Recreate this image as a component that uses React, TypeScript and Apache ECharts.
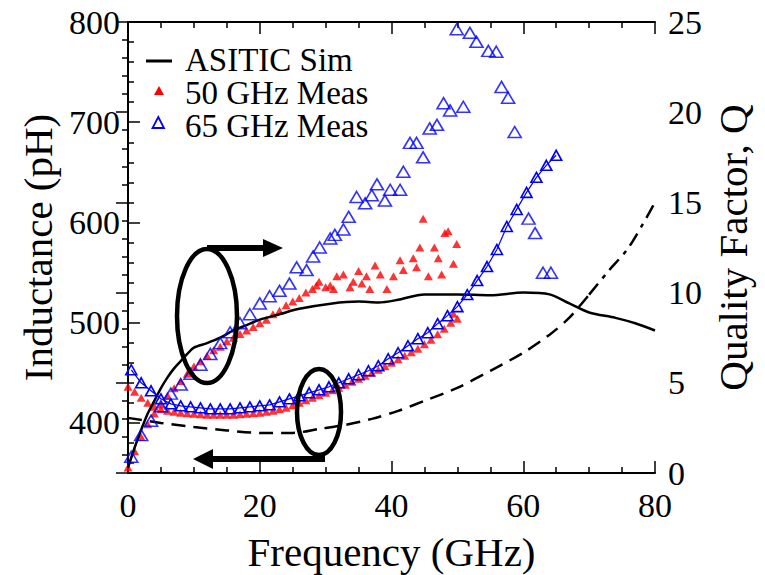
import React, { useEffect, useRef } from 'react';
import * as echarts from 'echarts';

const FONT = 'Liberation Serif';

// ---- axis ticks ----
const leftLabelTicks = [400, 500, 600, 700, 800];
const leftMinorTicks = [360, 380, 420, 440, 460, 480, 520, 540, 560, 580, 620, 640, 660, 680, 720, 740, 760, 780];

// ---- ASITIC simulation: Q (right axis) ----
const simQFreq = [0, 1, 2, 3, 4, 5, 6, 7, 8, 9, 10, 12, 14, 16, 18, 20, 23, 26, 31, 35, 38, 41, 45, 50, 55, 60, 64, 67, 70, 74, 77, 80];
const simQ = [0.3, 1.4, 2.4, 3.3, 4.0, 4.7, 5.3, 5.8, 6.2, 6.6, 6.95, 7.2, 7.5, 7.9, 8.2, 8.5, 8.8, 9.1, 9.4, 9.5, 9.45, 9.6, 9.9, 9.9, 9.85, 10.0, 9.9, 9.4, 8.9, 8.6, 8.3, 7.9];

// ---- ASITIC simulation: inductance (left axis) ----
const simLFreq = [0, 5, 10, 15, 20, 25, 29, 33, 37, 41, 45, 50, 55, 60, 64, 67, 70];
const simL = [405, 400, 396, 392.5, 390, 390, 394, 398, 404, 412, 422, 435, 452, 470, 488, 505, 528];
const simLTailFreq = [70, 73, 76, 80];
const simLTail = [528, 552, 575, 620];

// ---- 50 GHz measurement ----
const red50LFreq = [0, 1, 2, 3, 4, 5, 6, 7, 8, 9, 10, 11, 12, 13, 14, 15, 16, 17, 18, 19, 20, 21, 22, 23, 24, 25, 26, 27, 28, 29, 30, 31, 32, 33, 34, 35, 36, 37, 38, 39, 40, 41, 42, 43, 44, 45, 46, 47, 48, 49, 50, 49.4];
const red50L = [436, 431, 425, 420, 416, 413.5, 412, 411, 410, 409.5, 409, 408.5, 408, 408, 408, 408, 408, 408.5, 409, 409.5, 410, 411, 412, 413.5, 415, 417.5, 420, 422.5, 425, 427.5, 430, 432.5, 435, 438, 441, 444, 447, 450, 453, 456.5, 460, 463.5, 467, 470.5, 474, 478.5, 483, 488.5, 494, 500, 504, 509];
const red50QFreq = [0, 1, 2, 3, 4, 5, 6, 7, 8, 9, 10, 11, 12, 13, 14, 15, 16, 17, 18, 19, 20, 21, 22, 23, 24, 25, 26, 27, 28, 28.6, 29, 30, 30.7, 31.2, 31.7, 32.7, 33.7, 34.2, 35, 35.5, 36.2, 36.7, 37.5, 38.3, 39.3, 40.3, 41.3, 41.8, 43.3, 43.8, 44.3, 44.8, 45.6, 46.5, 47.1, 47.6, 48.1, 48.6, 49.4, 49.9];
const red50Q = [0.3, 1.2, 2.0, 2.7, 3.3, 3.8, 4.3, 4.7, 5.1, 5.5, 5.9, 6.2, 6.5, 6.8, 7.0, 7.3, 7.5, 7.7, 7.9, 8.1, 8.3, 8.5, 8.8, 9.0, 9.3, 9.5, 9.7, 10.0, 10.2, 10.4, 10.6, 10.3, 10.4, 10.2, 10.9, 11.0, 10.3, 10.6, 11.2, 10.5, 10.9, 10.2, 11.5, 11.0, 10.2, 10.9, 11.8, 11.25, 11.9, 11.4, 12.5, 14.1, 10.9, 12.5, 11.9, 11.0, 13.3, 13.4, 11.6, 12.7];

// ---- 65 GHz measurement ----
const blue65LFreq = [0.5, 2, 3.5, 5, 6.5, 8, 9.5, 11, 12.5, 14, 15.5, 17, 18.5, 20, 21.5, 23, 24.5, 26, 27.5, 29, 30.5, 32, 33.5, 35, 36.5, 38, 39.5, 41, 42.5, 44, 45.5, 47, 48.5, 50, 51.5, 53, 54.5, 56, 57.5, 59, 60.5, 62, 63.5, 65];
const blue65L = [453, 440, 432, 424, 419, 417, 416, 415, 414, 414, 414, 415, 416, 417, 418, 421, 424, 427, 430, 433, 436, 440, 444, 448, 452, 457, 464, 470, 477, 484, 490, 499, 507, 516, 528, 542, 556, 573, 596, 613, 630, 645, 657, 667];
const blue65QFreq = [0.5, 2, 3.5, 5, 6.5, 8, 9.5, 11, 12.5, 14, 15.5, 17, 18.5, 20, 21.5, 23, 24.5, 25.6, 27.1, 28.1, 29.1, 30.7, 31.4, 32.7, 33.5, 34.7, 36, 37, 37.8, 39, 39.8, 41.3, 41.8, 42.8, 43.8, 44.8, 45.8, 46.9, 47.9, 48.9, 50.9, 49.9, 51.9, 52.9, 54.7, 55.9, 56.7, 57.7, 58.7, 60.8, 61.8, 63, 64.2];
const blue65Q = [0.9, 2.1, 2.9, 3.7, 4.4, 4.9, 5.5, 6.0, 6.6, 7.2, 7.8, 8.3, 8.8, 9.4, 9.8, 10.1, 10.5, 11.4, 11.25, 12.0, 12.5, 13.0, 13.2, 13.5, 14.2, 15.3, 14.95, 15.4, 16.0, 15.1, 15.7, 15.7, 16.7, 18.3, 18.3, 17.5, 19.1, 19.3, 20.5, 20.1, 20.3, 24.6, 24.4, 23.9, 23.4, 23.35, 21.4, 20.8, 18.9, 14.1, 13.3, 11.1, 11.1];

const legendNames = ['ASITIC Sim', '50 GHz Meas', '65 GHz Meas'];

const pairs = (xs: number[], ys: number[]) => xs.map((x, i) => [x, ys[i]]);

const RED = '#ff0000';
const BLUE = '#0000ff';

export default function App() {
  const ref = useRef<HTMLDivElement>(null);
  useEffect(() => {
    if (!ref.current) return;
    const chart = echarts.init(ref.current, undefined, { renderer: 'svg' });
    const axisLine = { show: true, lineStyle: { color: '#000', width: 2 } };
    const tickStyle = { color: '#000', width: 1.5 };
    const gridRect = { left: 128, right: 110, top: 22, bottom: 102, outerBoundsMode: 'none' } as any;
    const legendText = (text: string, y: number) => ({
      type: 'text', z: 100, x: 185, y,
      style: { text, fontSize: 33, fontFamily: FONT, fill: '#000', verticalAlign: 'middle' },
    });
    const option: any = {
      animation: false,
      backgroundColor: '#fff',
      textStyle: { fontFamily: FONT },
      grid: [gridRect, { ...gridRect }],
      xAxis: [
        {
          type: 'value', gridIndex: 0, position: 'bottom', min: 0, max: 80, interval: 20,
          axisLine, axisTick: { show: true, inside: true, length: 12, lineStyle: tickStyle },
          minorTick: { show: true, splitNumber: 4, length: 6, lineStyle: tickStyle },
          splitLine: { show: false },
          axisLabel: { fontSize: 34, fontFamily: FONT, color: '#000', margin: 15 },
          name: 'Frequency (GHz)', nameLocation: 'middle', nameGap: 58,
          nameTextStyle: { fontSize: 41, fontFamily: FONT, color: '#000' },
        },
        {
          type: 'value', gridIndex: 0, position: 'top', min: 0, max: 80, interval: 20,
          axisLine, axisTick: { show: true, inside: true, length: 12, lineStyle: tickStyle },
          minorTick: { show: true, splitNumber: 4, length: 6, lineStyle: tickStyle },
          splitLine: { show: false }, axisLabel: { show: false },
        },
        { type: 'value', gridIndex: 1, min: 0, max: 80, show: false },
      ],
      yAxis: [
        {
          type: 'value', gridIndex: 0, position: 'left', min: 350, max: 800,
          axisLine, axisTick: { show: true, inside: true, length: 12, lineStyle: tickStyle, customValues: leftLabelTicks },
          splitLine: { show: false },
          axisLabel: { fontSize: 34, fontFamily: FONT, color: '#000', margin: 8, customValues: leftLabelTicks },
          name: 'Inductance (pH)', nameLocation: 'middle', nameGap: 70, nameRotate: 90,
          nameTextStyle: { fontSize: 41, fontFamily: FONT, color: '#000' },
        },
        {
          type: 'value', gridIndex: 0, position: 'right', min: 0, max: 25, interval: 5,
          axisLine, axisTick: { show: true, inside: true, length: 12, lineStyle: tickStyle },
          minorTick: { show: true, splitNumber: 5, length: 6, lineStyle: tickStyle },
          splitLine: { show: false },
          axisLabel: { fontSize: 34, fontFamily: FONT, color: '#000', margin: 13 },
          name: 'Quality Factor, Q', nameLocation: 'middle', nameGap: 55, nameRotate: 90,
          nameTextStyle: { fontSize: 41, fontFamily: FONT, color: '#000' },
        },
        {
          type: 'value', gridIndex: 1, position: 'left', min: 350, max: 800,
          axisLine: { show: false },
          axisTick: { show: true, inside: true, length: 6, lineStyle: tickStyle, customValues: leftMinorTicks },
          axisLabel: { show: false, customValues: leftMinorTicks },
          splitLine: { show: false },
        },
      ],
      series: [
        {
          name: '50 GHz Meas', type: 'scatter', xAxisIndex: 0, yAxisIndex: 0,
          data: pairs(red50LFreq, red50L), symbol: 'triangle', symbolSize: [9, 8],
          itemStyle: { color: RED }, z: 3,
        },
        {
          name: '50 GHz Meas', type: 'scatter', xAxisIndex: 0, yAxisIndex: 1,
          data: pairs(red50QFreq, red50Q), symbol: 'triangle', symbolSize: [9, 8],
          itemStyle: { color: RED }, z: 3,
        },
        {
          name: 'ASITIC Sim', type: 'line', xAxisIndex: 0, yAxisIndex: 1,
          data: pairs(simQFreq, simQ), showSymbol: false, smooth: 0.3,
          lineStyle: { color: '#000', width: 2.5 }, z: 4,
        },
        {
          name: 'ASITIC Sim L', type: 'line', xAxisIndex: 0, yAxisIndex: 0,
          data: pairs(simLFreq, simL), showSymbol: false, smooth: 0.3,
          lineStyle: { color: '#000', width: 2.5, type: [14, 8] }, z: 4,
        },
        {
          name: 'ASITIC Sim L tail', type: 'line', xAxisIndex: 0, yAxisIndex: 0,
          data: pairs(simLTailFreq, simLTail), showSymbol: false, smooth: 0.3,
          lineStyle: { color: '#000', width: 2.5, type: [14, 7, 4, 7] }, z: 4,
        },
        {
          name: '65 GHz Meas', type: 'line', xAxisIndex: 0, yAxisIndex: 0,
          data: pairs(blue65LFreq, blue65L), symbol: 'triangle', symbolSize: [11, 10],
          showSymbol: true, showAllSymbol: true,
          lineStyle: { color: BLUE, width: 1.2 },
          itemStyle: { color: 'rgba(0,0,0,0)', borderColor: BLUE, borderWidth: 1.6 }, z: 5,
        },
        {
          name: '65 GHz Meas', type: 'scatter', xAxisIndex: 0, yAxisIndex: 1,
          data: pairs(blue65QFreq, blue65Q), symbol: 'triangle', symbolSize: [13, 11],
          itemStyle: { color: 'rgba(0,0,0,0)', borderColor: BLUE, borderWidth: 1.6 }, z: 5,
        },
      ],
      graphic: [
        // legend
        { type: 'line', z: 100, shape: { x1: 146, y1: 61, x2: 172, y2: 61 }, style: { stroke: '#000', lineWidth: 3 } },
        { type: 'polygon', z: 100, shape: { points: [[154, 95], [164, 95], [159, 86]] }, style: { fill: RED } },
        { type: 'polygon', z: 100, shape: { points: [[152.5, 128], [164, 128], [158.3, 117]] }, style: { fill: 'none', stroke: BLUE, lineWidth: 1.8 } },
        legendText(legendNames[0], 60),
        legendText(legendNames[1], 93),
        legendText(legendNames[2], 126),
        // annotations: Q ellipse & arrow (points right)
        { type: 'ellipse', z: 100, shape: { cx: 207, cy: 316, rx: 30, ry: 67 }, style: { fill: 'none', stroke: '#000', lineWidth: 4.5 } },
        { type: 'line', z: 100, shape: { x1: 207, y1: 248, x2: 266, y2: 248 }, style: { stroke: '#000', lineWidth: 6 } },
        { type: 'polygon', z: 100, shape: { points: [[263, 239], [283, 248], [263, 257]] }, style: { fill: '#000' } },
        // annotations: L ellipse & arrow (points left)
        { type: 'ellipse', z: 100, shape: { cx: 319, cy: 412, rx: 22, ry: 43 }, style: { fill: 'none', stroke: '#000', lineWidth: 4.5 } },
        { type: 'line', z: 100, shape: { x1: 325, y1: 459, x2: 210, y2: 459 }, style: { stroke: '#000', lineWidth: 6 } },
        { type: 'polygon', z: 100, shape: { points: [[213, 449], [193, 459], [213, 469]] }, style: { fill: '#000' } },
      ],
    };
    chart.setOption(option);
    return () => chart.dispose();
  }, []);
  return (
    <div
      ref={ref}
      style={{ position: 'fixed', left: 0, top: 0, width: 765, height: 575, background: '#fff' }}
    />
  );
}
